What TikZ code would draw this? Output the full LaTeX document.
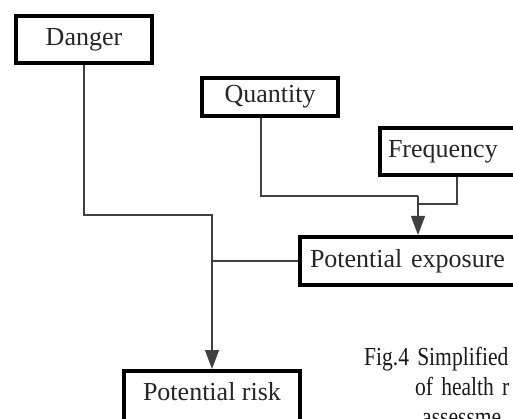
\documentclass[tikz,border=0pt]{standalone}
\usepackage{fontspec}
\setmainfont{Liberation Serif}
\newfontfamily\capfont[FakeStretch=0.83,WordSpace=1.5]{Liberation Serif}
\usepackage{tikz}
\usetikzlibrary{arrows.meta}

\begin{document}
\begin{tikzpicture}[
  x=1pt, y=-1pt,
  font=\fontsize{26}{30}\selectfont,
  box/.style={draw=black,line width=4pt,fill=white,text=black!85,minimum width=136pt,minimum height=47pt,align=center},
  openbox/.style={box,align=left,inner xsep=8pt},
  wire/.style={draw=black!75,line width=1.2pt},
  tip/.style={-{Triangle[length=19pt,width=14pt]}},
  caption/.style={anchor=base west,inner sep=0pt,text=black!90,font=\capfont\fontsize{26}{30}\selectfont},
]
\useasboundingbox (0,0) rectangle (513,419);
\clip (0,0) rectangle (513,419);

% boxes
\node[box] (danger) at (84,39.5) {Danger};
\node[box, minimum height=38pt] (quantity) at (270,97) {Quantity};
\node[openbox, text width=144pt] (frequency) at (460,151.5) {Frequency};
\node[openbox, inner xsep=10pt, text width=210pt, minimum height=48pt] (exposure) at (415,261) {Potential exposure};
\node[box, anchor=north, minimum width=176pt, inner ysep=4pt, text height=25pt, text depth=26pt] (risk) at (212,369) {Potential risk};

% joints
\coordinate (dbend) at (212,215);
\coordinate (qdrop) at (261,0 |- quantity.south);
\coordinate (merge) at (418,196);
\coordinate (fdrop) at (457,0 |- frequency.south);
\coordinate (fjoin) at (418,204);

\draw[wire,tip] (danger.south) |- (dbend) -- (risk.north);
\draw[wire] (exposure.west) -- (exposure.west -| dbend);
\draw[wire] (qdrop) |- (merge);
\draw[wire] (fdrop) |- (fjoin);
\draw[wire,tip] (merge) -- (merge |- exposure.north);

% caption
\node[caption] (cap1) at (364,365) {Fig.4 Simplified};
\node[caption] (cap2) at (415,395) {of health r};
\node[caption] (cap3) at (422,425) {assessme};
\end{tikzpicture}
\end{document}
